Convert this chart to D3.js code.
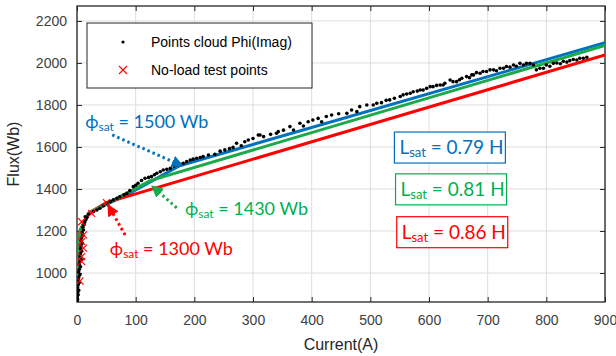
<!DOCTYPE html>
<html>
<head>
<meta charset="utf-8">
<script src="https://cdn.jsdelivr.net/npm/d3@7"></script>
<style>
  body { margin: 0; background: #fff; }
  text { font-family: "Liberation Sans", Arial, sans-serif; }
  .ann { font-family: Lato, "Open Sans", sans-serif; }
</style>
</head>
<body>
<div id="chart"></div>
<script>
// Set dimensions
const width = 616;
const height = 356;
const margin = { top: 6, right: 11, bottom: 54, left: 77 };

// Points cloud Phi(Imag)
const cloudCurrent = [0,1,0,2,1,3,1,2,4,2,3,5,3,4,6,4,5,7,5,6,8,6,7,9,7,8,10,9,11,10,12,13,15,17,
  14,20,28,34,39,45,51,57,62,68,73,80,85,90,96,100,104,110,116,122,127,132,136,142,147,153,159,165,170,176,181,187,193,198,204,210,215,224,
  235,244,252,260,266,272,280,286,292,300,309,312,318,330,340,343,352,363,369,380,386,394,402,411,417,425,434,446,460,468,477,482,494,505,511,519,527,533,
  541,551,556,562,568,573,580,585,590,596,602,607,613,619,624,627,636,641,647,652,656,664,669,673,676,681,687,692,698,704,710,715,721,727,732,738,744,749,
  755,761,766,772,778,783,789,795,800,806,812,818,824,829,835,840,846,852,857,863,869];
const cloudFlux = [866,874,885,896,908,918,930,944,955,968,980,992,1005,1018,1030,1042,1055,1066,1080,1092,1104,1116,1130,1142,1155,1168,1180,1192,1205,1218,1230,1242,1255,1265,
  1268,1280,1292,1300,1308,1320,1332,1340,1348,1356,1363,1372,1379,1392,1411,1418,1427,1440,1451,1455,1459,1468,1475,1482,1490,1494,1498,1508,1514,1518,1522,1530,1538,1542,1546,1550,1554,1562,
  1565,1580,1586,1592,1598,1618,1606,1625,1633,1640,1657,1657,1649,1660,1665,1673,1680,1697,1681,1713,1700,1720,1728,1736,1720,1745,1752,1758,1760,1776,1768,1792,1800,1800,1808,1811,1822,1824,
  1832,1840,1848,1852,1856,1863,1866,1871,1871,1879,1887,1887,1893,1895,1895,1903,1919,1911,1911,1920,1927,1935,1930,1943,1943,1954,1951,1959,1959,1967,1967,1963,1975,1975,1983,1980,1990,1984,
  1998,1990,1998,1998,1990,1967,1975,1975,1990,1984,1998,2000,1996,2008,2004,2011,2016,2014,2022,2022,2027];

// No-load test points
const testCurrent = [25, 8, 11, 8, 11, 8, 8, 5, 50];
const testFlux = [1284, 1244, 1181, 1149, 1118, 1078, 1054, 962, 1335];

// Fitted models
const blueCurrent = [0, 5, 20, 90, 176, 900];
const blueFlux = [870, 1200, 1285, 1380, 1512, 2096];
const greenCurrent = [0, 5, 20, 125, 900];
const greenFlux = [870, 1200, 1285, 1440, 2083];
const redCurrent = [0, 5, 20, 50, 900];
const redFlux = [870, 1200, 1285, 1335, 2038];

// Axis ticks
const xTicks = [0, 100, 200, 300, 400, 500, 600, 700, 800, 900];
const yTicks = [1000, 1200, 1400, 1600, 1800, 2000, 2200];

// Annotations
const phiLabels = ["1500 Wb", "1430 Wb", "1300 Wb"];
const lsatLabels = ["0.79 H", "0.81 H", "0.86 H"];
const legendLabels = ["Points cloud Phi(Imag)", "No-load test points"];

const blue = "#0072BD", green = "#1BAA4A", red = "#FF0000";
const blueTxt = "#0070C0", greenTxt = "#00B050";

const svg = d3.select("#chart").append("svg")
  .attr("width", width).attr("height", height);
svg.append("rect").attr("width", width).attr("height", height).attr("fill", "#fff");

const x = d3.scaleLinear().domain([0, 900]).range([margin.left, width - margin.right]);
const y = d3.scaleLinear().domain([862, 2271]).range([height - margin.bottom, margin.top]);
const x0 = margin.left, x1 = width - margin.right, y0 = height - margin.bottom, y1 = margin.top;

// grid
svg.append("g").selectAll("line").data(xTicks).join("line")
  .attr("x1", d => x(d)).attr("x2", d => x(d)).attr("y1", y0).attr("y2", y1)
  .attr("stroke", "#dedede").attr("stroke-width", 1);
svg.append("g").selectAll("line").data(yTicks).join("line")
  .attr("x1", x0).attr("x2", x1).attr("y1", d => y(d)).attr("y2", d => y(d))
  .attr("stroke", "#dedede").attr("stroke-width", 1);

// axes
const tickCol = "#262626";
const fmt = d3.format("d");
const gx = svg.append("g").attr("transform", `translate(0,${y0})`)
  .call(d3.axisBottom(x).tickValues(xTicks).tickFormat(fmt).tickSizeInner(-5).tickSizeOuter(0).tickPadding(13));
const gxt = svg.append("g").attr("transform", `translate(0,${y1})`)
  .call(d3.axisTop(x).tickValues(xTicks).tickSizeInner(-5).tickSizeOuter(0).tickFormat(""));
const gy = svg.append("g").attr("transform", `translate(${x0},0)`)
  .call(d3.axisLeft(y).tickValues(yTicks).tickFormat(fmt).tickSizeInner(-5).tickSizeOuter(0).tickPadding(10));
const gyr = svg.append("g").attr("transform", `translate(${x1},0)`)
  .call(d3.axisRight(y).tickValues(yTicks).tickSizeInner(-5).tickSizeOuter(0).tickFormat(""));
[gx, gxt, gy, gyr].forEach(g => {
  g.select(".domain").remove();
  g.selectAll("line").attr("stroke", tickCol);
  g.selectAll("text").attr("fill", "#404040").style("font-size", "14px")
    .style("font-family", "'Liberation Sans', Arial, sans-serif");
});
svg.append("rect").attr("x", x0).attr("y", y1).attr("width", x1 - x0).attr("height", y0 - y1)
  .attr("fill", "none").attr("stroke", tickCol).attr("stroke-width", 1.3);

// axis labels
svg.append("text").attr("x", (x0 + x1) / 2).attr("y", 350).attr("text-anchor", "middle")
  .style("font-size", "16px").attr("fill", "#262626").text("Current(A)");
svg.append("text").attr("transform", `translate(19,${(y0 + y1) / 2}) rotate(-90)`)
  .attr("text-anchor", "middle").style("font-size", "16px").attr("fill", "#262626").text("Flux(Wb)");

// clip
svg.append("clipPath").attr("id", "clip").append("rect")
  .attr("x", x0).attr("y", y1).attr("width", x1 - x0).attr("height", y0 - y1);
const plot = svg.append("g").attr("clip-path", "url(#clip)");

const line = d3.line().x(d => x(d[0])).y(d => y(d[1]));
[[blueCurrent, blueFlux, blue], [redCurrent, redFlux, red], [greenCurrent, greenFlux, green]]
  .forEach(([cs, fs, col]) => {
    plot.append("path").datum(d3.zip(cs, fs)).attr("d", line)
      .attr("fill", "none").attr("stroke", col).attr("stroke-width", 3);
  });

// points cloud
plot.append("g").selectAll("circle").data(d3.zip(cloudCurrent, cloudFlux)).join("circle")
  .attr("cx", d => x(d[0])).attr("cy", d => y(d[1])).attr("r", 1.8).attr("fill", "#000");

// test points
const cross = (g, cx, cy, s) => g.append("path")
  .attr("d", `M${cx - s},${cy - s}L${cx + s},${cy + s}M${cx - s},${cy + s}L${cx + s},${cy - s}`)
  .attr("stroke", red).attr("stroke-width", 1.1).attr("fill", "none");
d3.zip(testCurrent, testFlux).forEach(d => cross(plot, x(d[0]), y(d[1]), 3.5));

// arrows
const defs = svg.append("defs");
[["ab", blue], ["ag", green], ["ar", red]].forEach(([id, col]) => {
  defs.append("marker").attr("id", id).attr("viewBox", "0 0 10 10").attr("refX", 9).attr("refY", 5)
    .attr("markerWidth", 4).attr("markerHeight", 4).attr("orient", "auto").attr("markerUnits", "strokeWidth")
    .append("path").attr("d", "M0,0L10,5L0,10Z").attr("fill", col);
});
const arrows = [
  { from: [60, 1657], to: [180, 1510], col: blue, m: "ab" },
  { from: [170, 1310], to: [128, 1414], col: green, m: "ag" },
  { from: [82, 1181], to: [53, 1324], col: red, m: "ar" }
];
arrows.forEach(a => {
  svg.append("line").attr("x1", x(a.from[0])).attr("y1", y(a.from[1]))
    .attr("x2", x(a.to[0])).attr("y2", y(a.to[1]))
    .attr("stroke", a.col).attr("stroke-width", 3).attr("stroke-dasharray", "2.5 3")
    .attr("marker-end", `url(#${a.m})`);
});

// phi labels
const phiPos = [[14, 1690, blueTxt], [184, 1276, greenTxt], [56, 1086, red]];
phiPos.forEach((p, i) => {
  const t = svg.append("text").attr("class", "ann").attr("x", x(p[0])).attr("y", y(p[1]))
    .attr("fill", p[2]).style("font-size", "18px");
  t.append("tspan").text("ϕ");
  t.append("tspan").attr("dy", 3).style("font-size", "12px").text("sat");
  t.append("tspan").attr("dy", -3).text(" = " + phiLabels[i]);
});

// Lsat boxes
const boxPos = [[541, 1671, blueTxt], [543, 1472, greenTxt], [545, 1268, red]];
boxPos.forEach((b, i) => {
  const bx = x(b[0]), by = y(b[1]);
  svg.append("rect").attr("x", bx).attr("y", by).attr("width", 111).attr("height", 31)
    .attr("fill", "#fff").attr("stroke", b[2]).attr("stroke-width", 1.2);
  const t = svg.append("text").attr("class", "ann").attr("x", bx + 5).attr("y", by + 22)
    .attr("fill", b[2]).style("font-size", "19px");
  t.append("tspan").text("L");
  t.append("tspan").attr("dy", 3).style("font-size", "13px").text("sat");
  t.append("tspan").attr("dy", -3).text(" = " + lsatLabels[i]);
});

// legend
const lg = svg.append("g");
lg.append("rect").attr("x", 87).attr("y", 23).attr("width", 225).attr("height", 65)
  .attr("fill", "#fff").attr("stroke", "#262626").attr("stroke-width", 1);
lg.append("circle").attr("cx", 123).attr("cy", 42).attr("r", 1.6).attr("fill", "#000");
cross(lg, 123, 70, 4);
legendLabels.forEach((l, i) => {
  lg.append("text").attr("x", 151).attr("y", 47 + i * 28).style("font-size", "14px")
    .attr("fill", "#000").text(l);
});
</script>
</body>
</html>
